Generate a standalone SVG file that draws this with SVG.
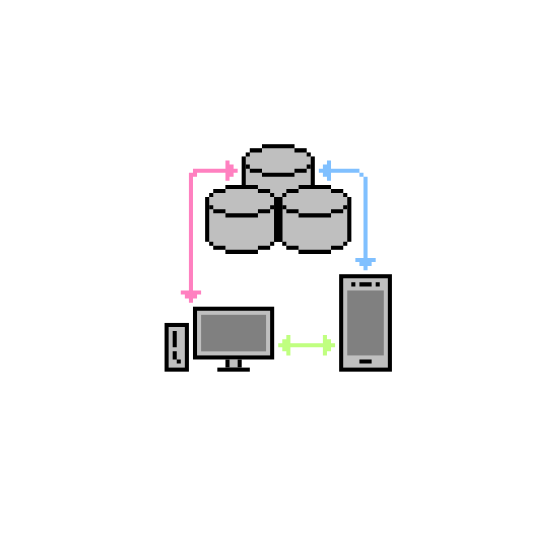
<svg xmlns="http://www.w3.org/2000/svg" width="558" height="558" viewBox="0 0 558 558">
  <style>
    .k { fill: #000000; }
    .g { fill: #bfbfbf; }
    .s { fill: #808080; }
    .pink { fill: #ff80c0; }
    .blue { fill: #80c0ff; }
    .green { fill: #c0ff80; }
  </style>
  <defs>
    <path id="cap" class="k" d="M5 0h8v1h-8zM2 1h3v1h-3zM13 1h3v1h-3zM1 2h1v1h-1zM16 2h1v1h-1zM1 5h1v1h-1zM16 5h1v1h-1zM2 6h3v1h-3zM13 6h3v1h-3zM5 7h8v1h-8z"/>
    <g id="cylinder">
      <path class="g" d="M5 0H13V1H16V2H17V3H18V14H17V15H16V16H13V17H5V16H2V15H1V14H0V3H1V2H2V1H5Z"/>
      <use href="#cap"/>
      <path class="k" d="M0 3h1v11h-1zM17 3h1v11h-1zM1 14h1v1h-1zM16 14h1v1h-1zM2 15h3v1h-3zM13 15h3v1h-3zM5 16h8v1h-8z"/>
    </g>
  </defs>
  <rect width="558" height="558" fill="#ffffff"/>
  <g transform="translate(241.7 144.3) scale(4.06)">
    <g id="db-back">
      <path class="g" d="M5 0H13V1H16V2H17V3H18V10H14V13H4V10H0V3H1V2H2V1H5Z"/>
      <use href="#cap"/>
      <path class="k" d="M0 3h1v7h-1zM17 3h1v7h-1z"/>
    </g>
    <g id="db-left"><use href="#cylinder" transform="translate(-9 10)"/></g>
    <g id="db-right">
      <use href="#cylinder" transform="translate(9 10)"/>
      <rect class="k" x="8" y="13" width="2" height="11"/>
    </g>
    <g id="tower">
      <rect class="k" x="-19" y="44" width="6" height="12"/>
      <rect class="g" x="-18" y="45" width="4" height="10"/>
      <path class="k" d="M-17 46h1v4h-1zM-17 51h1v2h-1zM-16 53h1v1h-1z"/>
    </g>
    <g id="monitor">
      <rect class="k" x="-12" y="40" width="20" height="13"/>
      <rect class="g" x="-11" y="41" width="18" height="11"/>
      <rect class="s" x="-10" y="42" width="16" height="9"/>
      <rect class="k" x="-4" y="53" width="4" height="2"/>
      <rect class="g" x="-3" y="53" width="2" height="2"/>
      <rect class="k" x="-6" y="55" width="8" height="1"/>
    </g>
    <g id="phone">
      <rect class="k" x="24" y="32" width="13" height="24"/>
      <rect class="g" x="25" y="33" width="11" height="22"/>
      <rect class="s" x="26" y="36" width="9" height="16"/>
      <path class="k" d="M27 34h1v1h-1zM29 34h3v1h-3zM33 34h1v1h-1zM29 53h3v1h-3z"/>
    </g>
    <g id="connectors">
      <path class="pink" d="M-4 4h1v1h1v1h1v1h-1v1h-1v1h-1V7H-11V8H-12V36H-10V37H-11V38H-12V39H-13V38H-14V37H-15V36H-13V7H-12V6H-4Z"/>
      <path class="blue" d="M19 6h1V5h1V4h1v2h7v1h1v1h1V28h2v1h-1v1h-1v1h-1v-1h-1v-1h-1v-1h2V8h-1V7H22v2h-1V8h-1V7h-1Z"/>
      <path class="green" d="M9 49h1V48h1V47h1v2h8V47h1v1h1v1h1v1h-1v1h-1v1h-1V50H12v2h-1V51h-1V50H9Z"/>
    </g>
  </g>
</svg>
